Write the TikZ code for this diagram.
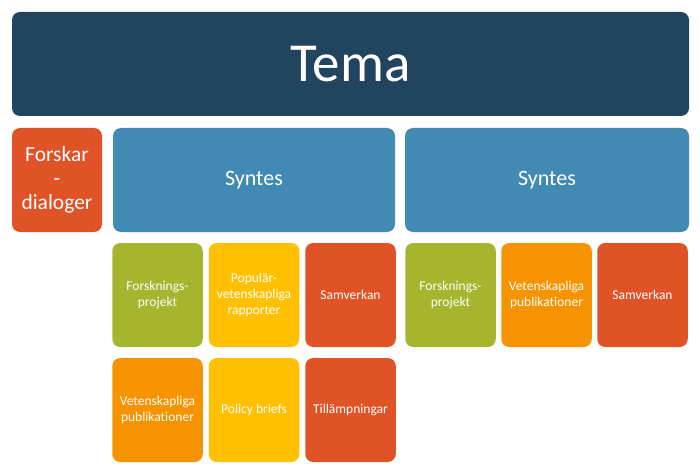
\documentclass[tikz,border=0pt]{standalone}
\usepackage{fontspec}
\setmainfont{Carlito}[Ligatures=NoCommon]
\definecolor{temablue}{HTML}{21455E}
\definecolor{syntesblue}{HTML}{418AB3}
\definecolor{redorange}{HTML}{DF5327}
\definecolor{leafgreen}{HTML}{A5B52D}
\definecolor{sunyellow}{HTML}{FEC000}
\definecolor{amber}{HTML}{F59300}

\begin{document}
\begin{tikzpicture}[x=1pt, y=-1pt,
  box/.style={rounded corners=8pt, inner sep=0pt, outer sep=0pt,
    text=white, align=center, minimum height=104pt},
  small/.style={box, minimum width=90.5pt,
    font=\fontsize{13.5}{16}\selectfont}]
\useasboundingbox (0,0) rectangle (700,473);
\node[box, fill=temablue, minimum width=677pt,
  font=\fontsize{55}{55}\selectfont] (tema) at (350.5,64) {Tema};
\node[box, fill=redorange, minimum width=90pt,
  font=\fontsize{21.5}{24}\selectfont] (forskar) at (57,180) {Forskar\\-\\dialoger};
\node[box, fill=syntesblue, minimum width=282pt,
  font=\fontsize{22}{26}\selectfont] (syntesA) at (254,180) {Syntes};
\node[box, fill=syntesblue, minimum width=284pt,
  font=\fontsize{22}{26}\selectfont] (syntesB) at (547,180) {Syntes};
\node[small, fill=leafgreen] (forskA) at (157.5,295) {Forsknings-\\projekt};
\node[small, fill=sunyellow] (popA) at (254,295) {Populär-\\vetenskapliga\\rapporter};
\node[small, fill=redorange] (samA) at (350.5,295) {Samverkan};
\node[small, fill=amber] (vetA) at (157.5,410) {Vetenskapliga\\publikationer};
\node[small, fill=sunyellow] (policyA) at (254,410) {Policy briefs};
\node[small, fill=redorange] (tillA) at (350.5,410) {Tillämpningar};
\node[small, fill=leafgreen] (forskB) at (450.5,295) {Forsknings-\\projekt};
\node[small, fill=amber] (vetB) at (546.5,295) {Vetenskapliga\\publikationer};
\node[small, fill=redorange] (samB) at (642.5,295) {Samverkan};
\end{tikzpicture}
\end{document}
